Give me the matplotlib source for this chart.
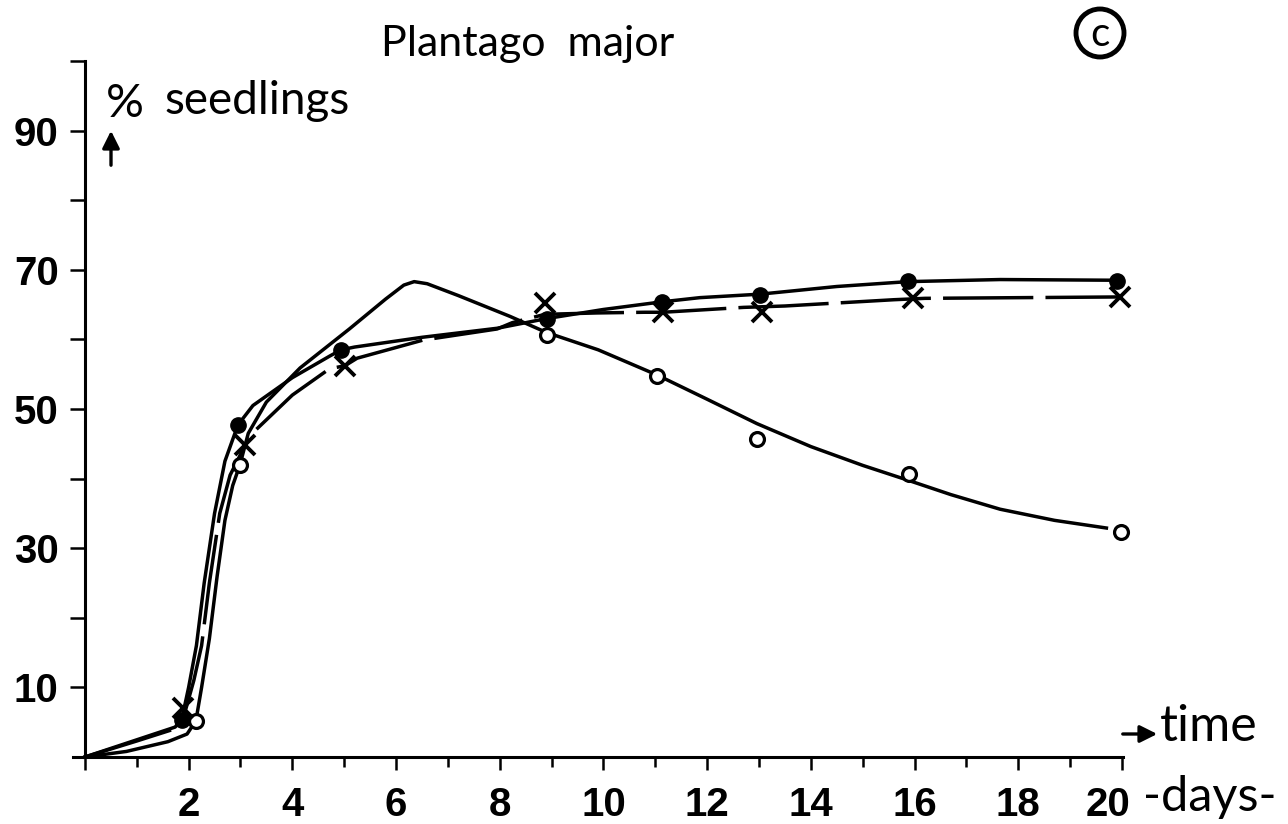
import matplotlib
matplotlib.use('Agg')
import matplotlib.pyplot as plt
from matplotlib.patches import Circle
import numpy as np

# measured points (days, % seedlings)
filled_x = [1.87, 2.95, 4.94, 8.91, 11.13, 13.02, 15.87, 19.90]
filled_y = [5.3, 47.7, 58.5, 63.0, 65.4, 66.4, 68.4, 68.4]
cross_x = [1.89, 3.09, 5.01, 8.87, 11.15, 13.06, 15.97, 19.96]
cross_y = [7.0, 44.8, 56.2, 65.2, 63.9, 63.9, 65.9, 66.1]
open_x = [2.14, 2.99, 8.91, 11.03, 12.96, 15.89, 19.98]
open_y = [5.2, 42.0, 60.6, 54.7, 45.7, 40.7, 32.3]

# hand drawn curves
filled_cx = [0, 1.74, 1.87, 2.0, 2.15, 2.3, 2.5, 2.7, 2.95, 3.24, 4.0, 4.72, 4.94,
             5.2, 6.5, 7.95, 8.91, 10.0, 11.13, 11.86, 13.02, 14.5, 15.87, 17.65, 19.9]
filled_cy = [0, 4.3, 5.5, 10, 16, 25, 35, 42.5, 47.7, 50.5, 54.5, 57.6, 58.5,
             58.9, 60.3, 61.6, 63.0, 64.3, 65.4, 66.0, 66.5, 67.6, 68.3, 68.6, 68.5]
cross_cx = [0, 1.0, 1.8, 1.95, 2.1, 2.25, 2.4, 2.6, 2.8, 3.09, 3.24, 4.0, 4.72, 5.01,
            5.25, 6.52, 7.95, 8.24, 8.87, 9.87, 10.8, 11.15, 12.7, 13.5, 15.6, 16.2, 19.96]
cross_cy = [0, 2.3, 4.2, 7.0, 11, 16, 25, 35, 40.5, 44.8, 46.6, 52.0, 55.8, 56.2,
            57.3, 59.9, 61.5, 62.4, 63.6, 63.8, 63.9, 63.9, 64.6, 64.8, 65.7, 65.9, 66.1]
open_cx = [0, 0.8, 1.6, 1.97, 2.14, 2.25, 2.4, 2.55, 2.7, 2.85, 2.99, 3.15, 3.5, 4.15,
           5.1, 5.8, 6.15, 6.35, 6.6, 7.2, 8.2, 8.9, 9.9, 11.03, 12.0, 12.96, 14.0,
           15.0, 15.9, 16.7, 17.65, 18.7, 19.7]
open_cy = [0, 0.8, 2.2, 3.3, 5.2, 10, 17, 26, 34, 39, 42, 46.5, 51.0, 55.9,
           61.5, 65.8, 67.8, 68.3, 68.0, 66.3, 63.3, 61.0, 58.5, 54.9, 51.4, 47.9, 44.6,
           41.9, 39.7, 37.7, 35.6, 34.0, 32.9]

y_ticks = [10, 20, 30, 40, 50, 60, 70, 80, 90, 100]
y_labels = ['10', '', '30', '', '50', '', '70', '', '90', '']
x_ticks = [0, 2, 4, 6, 8, 10, 12, 14, 16, 18, 20]
x_labels = ['', '2', '4', '6', '8', '10', '12', '14', '16', '18', '']
last_label = '20'

W, H = 1288, 824
fig = plt.figure(figsize=(W / 100, H / 100), dpi=100)
ax = fig.add_axes([73 / W, (H - 757) / H, (1123 - 73) / W, (757 - 61) / H])
ax.set_xlim(-0.23, 20.02)
ax.set_ylim(0, 100)

lw = 2.5
ax.plot(open_cx, open_cy, color='black', lw=lw, clip_on=False)
ax.plot(filled_cx, filled_cy, color='black', lw=lw, clip_on=False)
ln, = ax.plot(cross_cx, cross_cy, color='black', lw=lw, clip_on=False)
ln.set_dashes([26, 3.5])

ax.plot(open_x, open_y, 'o', ms=10, mfc='white', mec='black', mew=2.3, clip_on=False, zorder=5)
ax.plot(filled_x, filled_y, 'o', ms=11, mfc='black', mec='black', clip_on=False, zorder=5)
ax.plot(cross_x, cross_y, 'x', ms=14, mec='black', mew=2.8, clip_on=False, zorder=5)

for s in ['top', 'right']:
    ax.spines[s].set_visible(False)
ax.spines['left'].set_position(('data', 0))
ax.spines['left'].set_linewidth(2.2)
ax.spines['bottom'].set_linewidth(2.2)

tick_font = dict(family='Liberation Sans', weight='bold', size=29)
ax.set_yticks(y_ticks)
ax.set_yticklabels(y_labels, fontdict=tick_font)
ax.set_xticks(x_ticks)
ax.set_xticklabels(x_labels, fontdict=tick_font)
ax.set_xticks(np.arange(1, 20, 2), minor=True)
ax.tick_params(axis='y', direction='out', length=11, width=1.8, pad=8)
ax.tick_params(axis='x', which='major', direction='out', length=9, width=1.8, pad=12)
ax.tick_params(axis='x', which='minor', direction='out', length=7, width=1.8)

# "20" sits left of its tick in the original
ax.annotate(last_label, xy=(x_ticks[-1], 0), xytext=(6, -21), textcoords='offset points',
            ha='right', va='top', annotation_clip=False, **tick_font)

txt_font = 'Lato'
fig.text(528 / W, 1 - 44 / H, 'Plantago  major', ha='center', va='center',
         fontsize=31, family=txt_font)
fig.text(106 / W, 1 - 104 / H, '%', ha='left', va='center', fontsize=34, family=txt_font)
fig.text(164 / W, 1 - 101 / H, 'seedlings', ha='left', va='center', fontsize=33, family=txt_font)
ax.annotate('', xy=(111, H - 128), xytext=(111, H - 168), xycoords='figure pixels',
            textcoords='figure pixels',
            arrowprops=dict(arrowstyle='-|>', color='black', lw=2.4, mutation_scale=26))

ax.annotate('', xy=(1160, H - 734), xytext=(1120, H - 734), xycoords='figure pixels',
            textcoords='figure pixels',
            arrowprops=dict(arrowstyle='-|>', color='black', lw=2.4, mutation_scale=26))
fig.text(1160 / W, 1 - 727 / H, 'time', ha='left', va='center', fontsize=36, family=txt_font)
fig.text(1143 / W, 1 - 797 / H, '-days-', ha='left', va='center', fontsize=35, family=txt_font)

fig.patches.append(Circle((1100 / 100, (H - 33) / 100), 0.24, transform=fig.dpi_scale_trans,
                          fill=False, lw=3.5, color='black'))
fig.text(1100 / W, 1 - 35 / H, 'c', ha='center', va='center', fontsize=29, family=txt_font)

fig.savefig('out.png', dpi=100, facecolor='white')
